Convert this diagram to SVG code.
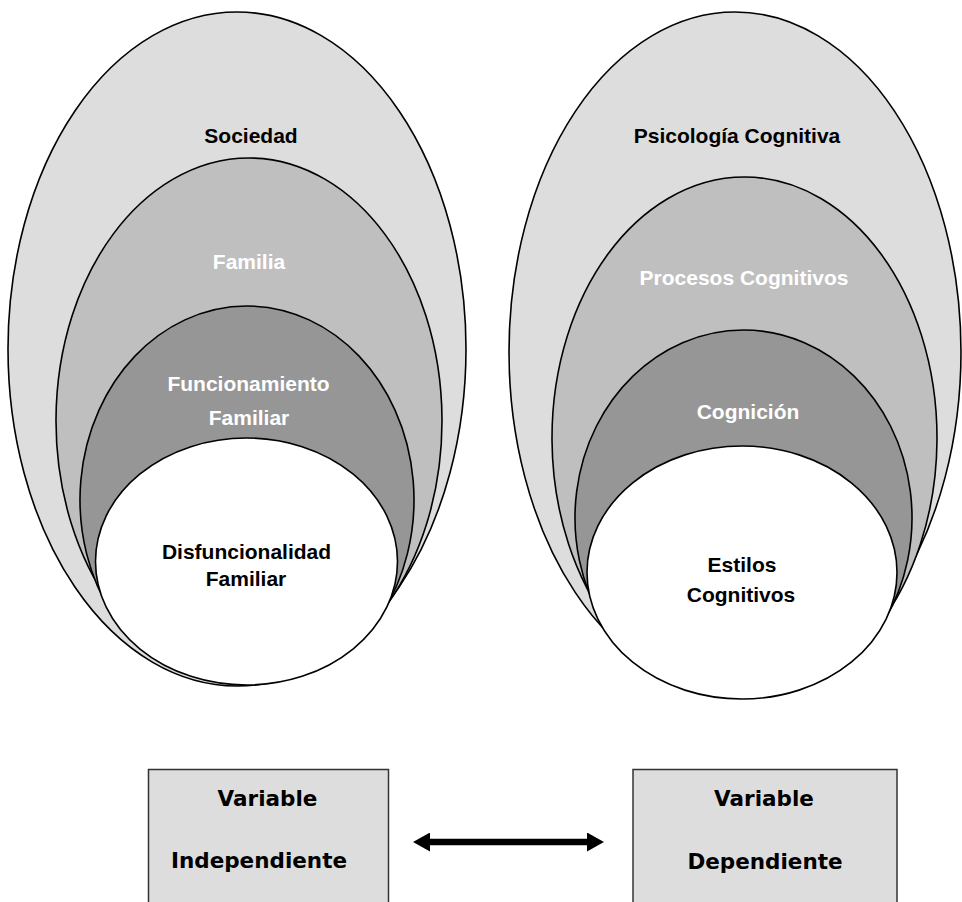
<svg xmlns="http://www.w3.org/2000/svg" width="962" height="902" viewBox="0 0 962 902">
<style>
.e{stroke:#000;stroke-width:1.6}
.l1{fill:#dddddd}
.l2{fill:#bfbfbf}
.l3{fill:#969696}
.l4{fill:#ffffff}
.t{font-family:"Liberation Sans",Arial,sans-serif;font-weight:bold;font-size:21px;text-anchor:middle}
.dk{fill:#000}
.wt{fill:#ffffff}
.box{fill:#dddddd;stroke:#333;stroke-width:1.5}
.bt{font-family:"DejaVu Sans",sans-serif;font-weight:bold;font-size:21.5px;text-anchor:middle;fill:#000}
</style>
<defs>
<marker id="ah" viewBox="0 0 17 19" refX="0" refY="9.5" markerWidth="17" markerHeight="19" markerUnits="userSpaceOnUse" orient="auto-start-reverse">
<path d="M0,0 L17,9.5 L0,19 Z" fill="#000"/>
</marker>
</defs>
<rect width="962" height="902" fill="#fff"/>
<g id="sociedad">
<ellipse class="e l1" cx="237" cy="349" rx="229" ry="337"/>
<text class="t dk" x="251" y="143">Sociedad</text>
</g>
<g id="familia">
<path class="e l2" d="M111.1,605 A193,263 0 1 1 386.9,605 Z"/>
<text class="t wt" x="249" y="269">Familia</text>
</g>
<g id="funcionamiento-familiar">
<path class="e l3" d="M112.7,615 A167,193.8 0 1 1 381.3,615 Z"/>
<text class="t wt" x="248.5" y="390.5">Funcionamiento</text>
<text class="t wt" x="249" y="425">Familiar</text>
</g>
<g id="disfuncionalidad-familiar">
<ellipse class="e l4" cx="246.5" cy="561.5" rx="151" ry="123.5"/>
<text class="t dk" x="246.5" y="559">Disfuncionalidad</text>
<text class="t dk" x="246" y="586">Familiar</text>
</g>
<g id="psicologia-cognitiva">
<ellipse class="e l1" cx="735" cy="352" rx="226" ry="340"/>
<text class="t dk" x="737" y="143">Psicología Cognitiva</text>
</g>
<g id="procesos-cognitivos">
<path class="e l2" d="M610.2,625 A192.5,261 0 1 1 878.8,625 Z"/>
<text class="t wt" x="744" y="284.5">Procesos Cognitivos</text>
</g>
<g id="cognicion">
<path class="e l3" d="M602.2,620 A168.5,187.7 0 1 1 884.8,620 Z"/>
<text class="t wt" x="748" y="419">Cognición</text>
</g>
<g id="estilos-cognitivos">
<ellipse class="e l4" cx="742" cy="572.5" rx="155" ry="126.5"/>
<text class="t dk" x="742" y="571.5">Estilos</text>
<text class="t dk" x="741" y="602">Cognitivos</text>
</g>
<g id="variable-independiente">
<rect class="box" x="148.5" y="769.5" width="240" height="145"/>
<text class="bt" x="267.5" y="805.5">Variable</text>
<text class="bt" x="259" y="868">Independiente</text>
</g>
<g id="variable-dependiente">
<rect class="box" x="633" y="769.5" width="264" height="145"/>
<text class="bt" x="764" y="805.5">Variable</text>
<text class="bt" x="765" y="869">Dependiente</text>
</g>
<g id="connectors">
<line x1="430" y1="842" x2="587" y2="842" stroke="#000" stroke-width="6.5" marker-start="url(#ah)" marker-end="url(#ah)"/>
</g>
</svg>
